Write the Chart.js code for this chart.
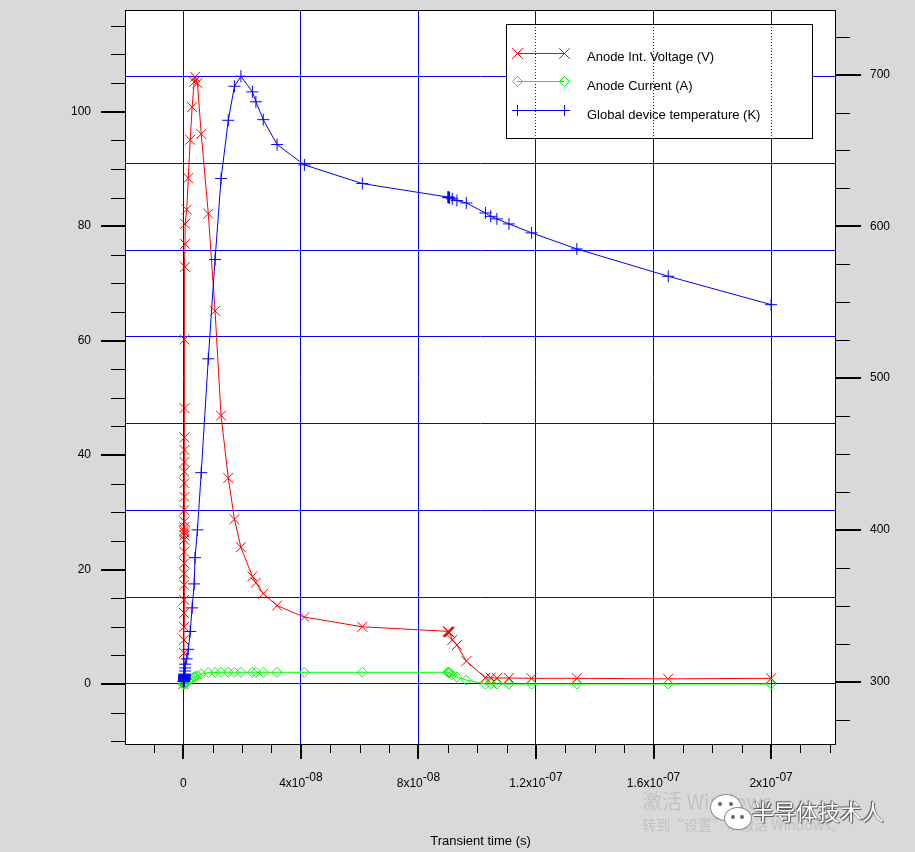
<!DOCTYPE html>
<html>
<head>
<meta charset="utf-8">
<script src="https://cdn.jsdelivr.net/npm/chart.js@4.4.1/dist/chart.umd.min.js"></script>
<style>
html,body{margin:0;padding:0;background:#d9d9d9;width:915px;height:852px;overflow:hidden;}
#wrap{position:relative;width:915px;height:852px;}
#c{position:absolute;left:0;top:0;}
.wm{position:absolute;white-space:nowrap;font-family:"Noto Sans CJK SC","Liberation Sans",sans-serif;}
#wm1{left:642px;top:786px;font-size:20px;color:#c2c2c2;}
#wm2{left:642px;top:814px;font-size:14px;color:#c2c2c2;}
#wm3{left:752px;top:794px;font-size:22px;color:#fff;text-shadow:0 0 1px #555,1px 1px 1px #555,-1px -1px 1px #555;}
.bub{position:absolute;background:#fff;border:1.5px solid #8a8a8a;border-radius:50%;}
.eye{position:absolute;width:4px;height:4px;border-radius:50%;background:#666;}
</style>
</head>
<body>
<div id="wrap">
<canvas id="c" width="915" height="852"></canvas>
<div class="wm" id="wm1">激活 Windows</div>
<div class="wm" id="wm2">转到“设置”以激活 Windows。</div>
<div class="bub" style="left:710px;top:794px;width:30px;height:25px;"></div>
<div class="eye" style="left:718px;top:802px;"></div>
<div class="eye" style="left:729px;top:802px;"></div>
<div class="bub" style="left:724px;top:807px;width:26px;height:21px;"></div>
<div class="eye" style="left:731px;top:815px;"></div>
<div class="eye" style="left:740px;top:815px;"></div>
<div class="wm" id="wm3">半导体技术人</div>
</div>
<script>
// ---------------- data ----------------
const time_s = [0, 2.0e-10, 2.2e-10, 2.4e-10, 2.6e-10, 2.8e-10, 3.0e-10, 3.1e-10, 3.2e-10, 3.3e-10, 3.4e-10,
  3.45e-10, 3.5e-10, 3.55e-10, 3.6e-10, 3.65e-10, 3.7e-10, 3.75e-10, 3.8e-10, 3.85e-10, 3.9e-10,
  3.95e-10, 4.0e-10, 4.1e-10, 4.3e-10, 5.5e-10, 5.9e-10, 6.2e-10,
  1.16e-9, 1.7e-9, 2.35e-9, 3.0e-9, 3.7e-9, 4.0e-9, 4.8e-9,
  6.1e-9, 8.5e-9, 1.08e-8, 1.285e-8, 1.53e-8, 1.74e-8, 1.96e-8, 2.35e-8, 2.47e-8, 2.72e-8, 3.19e-8, 4.12e-8, 6.09e-8,
  9.00e-8, 9.02e-8, 9.04e-8, 9.06e-8, 9.15e-8, 9.31e-8, 9.63e-8,
  1.028e-7, 1.046e-7, 1.067e-7, 1.108e-7, 1.185e-7, 1.339e-7, 1.650e-7, 2.0e-7];

const anodeVoltage_V = [0, 5.4, 7.7, 10.0, 12.4, 14.7, 17.3, 19.3, 21.1, 23.1, 25.2,
  26.0, 26.5, 26.9, 27.4, 28.4, 30.4, 32.7, 35.1, 37.1, 38.8,
  40.9, 43.1, 48.2, 60.2, 72.9, 76.9, 80.4,
  82.9, 88.4, 95.1, 100.8, 105.2, 106.1, 105.0,
  96.1, 82.2, 65.2, 46.9, 36.0, 28.8, 23.9, 18.8, 17.7, 15.8, 13.7, 11.7, 10.0,
  9.2, 9.15, 9.1, 9.0, 7.7, 6.8, 4.0,
  1.1, 1.1, 1.05, 1.05, 1.0, 1.0, 0.9, 1.0];

const anodeCurrent_A = [0, 0, 0, 0, 0, 0, 0, 0, 0, 0, 0,
  0, 0, 0, 0, 0, 0, 0, 0, 0, 0,
  0, 0, 0, 0.02, 0.05, 0.08, 0.12,
  0.3, 0.55, 0.8, 1.0, 1.2, 1.3, 1.45,
  1.75, 2.0, 2.04, 2.05, 2.05, 2.05, 2.05, 2.05, 2.05, 2.05, 2.05, 2.05, 2.05,
  2.05, 2.03, 2.0, 1.95, 1.6, 1.2, 0.7,
  0, 0, 0, 0, 0, 0, 0, 0];

const deviceTemp_K = [300.0, 300.2, 300.4, 300.6, 300.8, 301.0, 301.2, 301.4, 301.6, 301.8, 302.0,
  302.2, 302.4, 302.6, 302.8, 303.0, 303.2, 303.4, 303.6, 303.8, 304.0,
  304.2, 304.4, 304.6, 305.0, 307.0, 309.0, 311.5,
  315.0, 321.3, 333.0, 348.6, 364.4, 381.7, 400.0,
  437.7, 512.7, 578.1, 631.5, 669.9, 692.3, 698.9, 688.6, 682.1, 670.3, 653.9, 640.5, 628.2,
  619.3, 619.2, 619.0, 618.8, 618.1, 617.0, 615.4,
  608.8, 606.6, 604.9, 601.6, 595.7, 585.1, 567.1, 548.4];

const seriesNames = ['Anode Int. Voltage (V)', 'Anode Current (A)', 'Global device temperature (K)'];
const leftTickLabels = [0, 20, 40, 60, 80, 100];
const rightTickLabels = [300, 400, 500, 600, 700];
const xTickValues = [0, 4e-8, 8e-8, 1.2e-7, 1.6e-7, 2e-7];
const xTickBase = ['0', '4x10', '8x10', '1.2x10', '1.6x10', '2x10'];
const xTickExp = ['', '-08', '-08', '-07', '-07', '-07'];
const xTitle = 'Transient time (s)';

// ---------------- chart ----------------
const FONT = '"Liberation Sans", Arial, sans-serif';
Chart.defaults.font.family = FONT;
const RED = '#ff0000', GREEN = '#00ff00', BLUE = '#0000ff';

function pts(vals) { return time_s.map((t, i) => ({x: t, y: vals[i]})); }

const plotBg = {
  id: 'plotBg',
  beforeDraw(chart) {
    const ctx = chart.ctx, a = chart.chartArea;
    ctx.save();
    ctx.fillStyle = '#ffffff';
    ctx.fillRect(a.left, a.top, a.right - a.left, a.bottom - a.top);
    ctx.restore();
  }
};

const decor = {
  id: 'decor',
  afterDraw(chart) {
    const ctx = chart.ctx, a = chart.chartArea, sx = chart.scales.x, sl = chart.scales.y, sr = chart.scales.y1;
    ctx.save();
    ctx.strokeStyle = '#000'; ctx.lineWidth = 1;
    ctx.strokeRect(a.left - 0.5, a.top - 0.5, a.right - a.left + 1, a.bottom - a.top + 1);

    function hTick(y, x0, x1, w) {
      const yy = w === 1 ? Math.round(y) + 0.5 : Math.round(y);
      ctx.lineWidth = w; ctx.beginPath(); ctx.moveTo(x0, yy); ctx.lineTo(x1, yy); ctx.stroke();
    }
    function vTick(x, y0, y1, w) {
      const xx = w === 1 ? Math.round(x) + 0.5 : Math.round(x);
      ctx.lineWidth = w; ctx.beginPath(); ctx.moveTo(xx, y0); ctx.lineTo(xx, y1); ctx.stroke();
    }
    ctx.strokeStyle = '#000';
    for (let v = -10; v <= 115; v += 5) {
      const major = v % 20 === 0;
      hTick(sl.getPixelForValue(v), a.left - (major ? 25 : 15), a.left, major ? 2 : 1);
    }
    for (let v = 275; v <= 725; v += 25) {
      const major = v % 100 === 0;
      hTick(sr.getPixelForValue(v), a.right, a.right + (major ? 26 : 15), major ? 2 : 1);
    }
    for (let k = -1; k <= 22; k++) {
      const major = k % 4 === 0;
      vTick(sx.getPixelForValue(k * 1e-8), a.bottom, a.bottom + (major ? 15 : 9), major ? 2 : 1);
    }
    ctx.fillStyle = '#000';
    ctx.textBaseline = 'alphabetic';
    ctx.textAlign = 'left';
    ctx.font = '12px ' + FONT;
    xTickValues.forEach((v, i) => {
      const px = sx.getPixelForValue(v);
      const wb = ctx.measureText(xTickBase[i]).width;
      const we = xTickExp[i] ? ctx.measureText(xTickExp[i]).width : 0;
      const x0 = px - (wb + we) / 2;
      ctx.fillText(xTickBase[i], x0, 786.5);
      if (xTickExp[i]) ctx.fillText(xTickExp[i], x0 + wb, 780.5);
    });

    // legend box
    const L = 506, T = 24, R = 813, B = 138;
    ctx.fillStyle = '#fff';
    ctx.fillRect(L, T, R - L, B - T);
    ctx.strokeStyle = BLUE; ctx.lineWidth = 1; ctx.setLineDash([1, 2]);
    xTickValues.forEach(v => {
      const px = Math.round(sx.getPixelForValue(v) - 0.5) + 0.5;
      if (px > L && px < R) { ctx.beginPath(); ctx.moveTo(px, T); ctx.lineTo(px, B); ctx.stroke(); }
    });
    ctx.setLineDash([]);
    ctx.strokeStyle = '#000';
    ctx.strokeRect(L + 0.5, T + 0.5, R - L - 1, B - T);
    const rows = [
      {c: RED, s: 'crossRot', r: 7.5, y: 53.5, ty: 60.5},
      {c: GREEN, s: 'rectRot', r: 5, y: 81.5, ty: 89.5},
      {c: BLUE, s: 'cross', r: 5.5, y: 110.5, ty: 118.5}
    ];
    rows.forEach((row, i) => {
      ctx.strokeStyle = row.c; ctx.lineWidth = 1;
      ctx.beginPath(); ctx.moveTo(517, row.y); ctx.lineTo(564, row.y); ctx.stroke();
      [517.5, 564.5].forEach(px => {
        ctx.strokeStyle = row.c; ctx.fillStyle = 'rgba(0,0,0,0)'; ctx.lineWidth = 1;
        Chart.helpers.drawPoint(ctx, {pointStyle: row.s, radius: row.r, rotation: 0, borderWidth: 1}, px, row.y);
      });
      ctx.fillStyle = '#000';
      ctx.font = '13px ' + FONT;
      ctx.textAlign = 'left'; ctx.textBaseline = 'alphabetic';
      ctx.fillText(seriesNames[i], 587, row.ty);
    });
    ctx.restore();
  }
};

new Chart(document.getElementById('c'), {
  type: 'line',
  data: {
    datasets: [
      {label: seriesNames[0], data: pts(anodeVoltage_V), yAxisID: 'y', order: 2,
       borderColor: RED, borderWidth: 1, pointStyle: 'crossRot', pointRadius: 7,
       pointBorderColor: RED, pointBackgroundColor: 'rgba(0,0,0,0)', pointBorderWidth: 1, tension: 0},
      {label: seriesNames[1], data: pts(anodeCurrent_A), yAxisID: 'y', order: 1,
       borderColor: GREEN, borderWidth: 1, pointStyle: 'rectRot', pointRadius: 5,
       pointBorderColor: GREEN, pointBackgroundColor: 'rgba(0,0,0,0)', pointBorderWidth: 1, tension: 0},
      {label: seriesNames[2], data: pts(deviceTemp_K), yAxisID: 'y1', order: 0,
       borderColor: BLUE, borderWidth: 1, pointStyle: 'cross', pointRadius: 6,
       pointBorderColor: BLUE, pointBackgroundColor: 'rgba(0,0,0,0)', pointBorderWidth: 1, tension: 0}
    ]
  },
  options: {
    responsive: false, animation: false, devicePixelRatio: 1, events: [],
    layout: {autoPadding: false, padding: {top: 11, left: 0, right: 0, bottom: 0}},
    plugins: {legend: {display: false}, tooltip: {enabled: false}},
    scales: {
      x: {
        type: 'linear', position: 'bottom', min: -1.95e-8, max: 2.2174e-7,
        afterBuildTicks: s => { s.ticks = xTickValues.map(v => ({value: v})); },
        ticks: {display: false, padding: 0},
        grid: {color: BLUE, lineWidth: 1, drawTicks: false},
        border: {display: false},
        title: {display: true, text: xTitle, color: '#000', font: {size: 13, family: FONT}, padding: {top: 0, bottom: 3}},
        afterFit: s => { s.height = 108; }
      },
      yg: {
        type: 'linear', position: 'left', min: -0.6916, max: 7.757,
        afterBuildTicks: s => { const t = []; for (let k = 0; k <= 7; k++) t.push({value: k}); s.ticks = t; },
        ticks: {display: false, padding: 0},
        grid: {color: BLUE, lineWidth: 1, drawTicks: false},
        border: {display: false},
        afterFit: s => { s.width = 0; }
      },
      y: {
        type: 'linear', position: 'left', min: -10.48, max: 117.6,
        afterBuildTicks: s => { s.ticks = leftTickLabels.map(v => ({value: v})); },
        ticks: {color: '#000', font: {size: 12, family: FONT}, padding: 0, callback: v => String(v)},
        grid: {display: false, drawTicks: true, tickLength: 35},
        border: {display: false},
        afterFit: s => { s.width = 126; }
      },
      y1: {
        type: 'linear', position: 'right', min: 258.9, max: 741.9,
        afterBuildTicks: s => { s.ticks = rightTickLabels.map(v => ({value: v})); },
        ticks: {color: '#000', font: {size: 12, family: FONT}, padding: 0, callback: v => String(v)},
        grid: {display: false, drawTicks: true, tickLength: 35},
        border: {display: false},
        afterFit: s => { s.width = 80; }
      }
    }
  },
  plugins: [plotBg, decor]
});
</script>
</body>
</html>
